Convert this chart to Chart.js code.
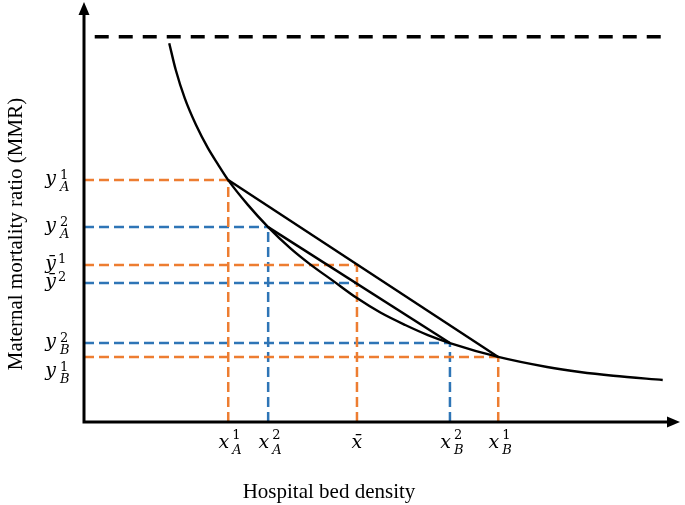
<!DOCTYPE html>
<html>
<head>
<meta charset="utf-8">
<script src="https://cdn.jsdelivr.net/npm/chart.js@4.4.1/dist/chart.umd.min.js"></script>
<style>
  html, body { margin: 0; padding: 0; background: #fff; }
</style>
</head>
<body>
<canvas id="chart" width="685" height="505"></canvas>
<script>
// Convex decreasing curve (MMR against bed density)
const curveX = [1.43, 1.54, 1.69, 1.88, 2.08, 2.25, 2.42, 2.75, 3.09, 3.46, 3.79, 4.18, 4.58, 4.98, 5.39, 5.77, 6.14, 6.95, 7.77, 8.32, 8.88, 9.71];
const curveY = [9.02, 8.38, 7.71, 7.07, 6.52, 6.13, 5.76, 5.17, 4.64, 4.14, 3.76, 3.36, 2.95, 2.60, 2.31, 2.07, 1.88, 1.55, 1.31, 1.19, 1.10, 1.00];

// Upper bound (dashed line)
const ceilingX = [0.18, 9.75];
const ceilingY = 9.17;

// Points where the chords meet the curve: A1, A2, B2, B1
const pointX = [2.42, 3.09, 6.14, 6.95];
const pointY = [5.76, 4.64, 1.88, 1.55];

// Mean bed density and the two mean MMR values on the chords
const meanX = 4.58;
const meanY = [3.74, 3.31];

// Tick labels (base letter, superscript, subscript)
const yTickBase = ['y', 'y', '\u0233', '\u0233', 'y', 'y'];
const yTickSup = ['1', '2', '1', '2', '2', '1'];
const yTickSub = ['A', 'A', '', '', 'B', 'B'];
const yTickValues = [pointY[0], pointY[1], meanY[0], meanY[1], pointY[2], pointY[3]];

const xTickBase = ['x', 'x', 'x\u0304', 'x', 'x'];
const xTickSup = ['1', '2', '', '2', '1'];
const xTickSub = ['A', 'A', '', 'B', 'B'];
const xTickValues = [pointX[0], pointX[1], meanX, pointX[2], pointX[3]];

const ORANGE = '#ED7D31';
const BLUE = '#2E75B6';

function seg(x1, y1, x2, y2) {
    return [{ x: x1, y: y1 }, { x: x2, y: y2 }];
}

const datasets = [];

// Curve
datasets.push({
    data: curveX.map((x, i) => ({ x: x, y: curveY[i] })),
    borderColor: '#000', borderWidth: 2.4,
    cubicInterpolationMode: 'monotone', order: 0
});
// Ceiling
datasets.push({
    data: ceilingX.map(x => ({ x: x, y: ceilingY })),
    borderColor: '#000', borderWidth: 3.5, borderDash: [14, 10], order: 0
});
// Chords A1-B1 and A2-B2
datasets.push({ data: seg(pointX[0], pointY[0], pointX[3], pointY[3]), borderColor: '#000', borderWidth: 2.4, order: 0 });
datasets.push({ data: seg(pointX[1], pointY[1], pointX[2], pointY[2]), borderColor: '#000', borderWidth: 2.4, order: 0 });

// Dashed guide lines down to the axes
const guideSets = [
    { color: ORANGE, order: 1, xs: [pointX[0], meanX, pointX[3]], ys: [pointY[0], meanY[0], pointY[3]], vert: [true, true, true] },
    { color: BLUE, order: 2, xs: [pointX[1], meanX, pointX[2]], ys: [pointY[1], meanY[1], pointY[2]], vert: [true, false, true] }
];
guideSets.forEach(g => {
    g.xs.forEach((gx, i) => {
        const gy = g.ys[i];
        datasets.push({ data: seg(0, gy, gx, gy), borderColor: g.color, borderWidth: 2.5, borderDash: [10, 5], order: g.order });
        if (g.vert[i]) {
            datasets.push({ data: seg(gx, 0, gx, gy), borderColor: g.color, borderWidth: 2.5, borderDash: [10, 5], order: g.order });
        }
    });
});

// Axes with arrows, tick labels and titles
const overlay = {
    id: 'overlay',
    afterDatasetsDraw(chart) {
        const { ctx, chartArea: a, scales } = chart;
        const sx = scales.x, sy = scales.y;
        const ox = sx.getPixelForValue(0), oy = sy.getPixelForValue(0);
        ctx.save();
        ctx.strokeStyle = '#000';
        ctx.fillStyle = '#000';
        ctx.lineWidth = 3;
        ctx.beginPath();
        ctx.moveTo(ox, oy + 1.5); ctx.lineTo(ox, a.top + 10);
        ctx.moveTo(ox - 1.5, oy); ctx.lineTo(a.right - 10, oy);
        ctx.stroke();
        ctx.beginPath();
        ctx.moveTo(ox, a.top); ctx.lineTo(ox - 5.5, a.top + 13); ctx.lineTo(ox + 5.5, a.top + 13);
        ctx.closePath(); ctx.fill();
        ctx.beginPath();
        ctx.moveTo(a.right, oy); ctx.lineTo(a.right - 13, oy - 5.5); ctx.lineTo(a.right - 13, oy + 5.5);
        ctx.closePath(); ctx.fill();

        // y tick labels
        yTickValues.forEach((v, i) => {
            let ty = sy.getPixelForValue(v);
            if (i === 5) ty += 15; // y_B^1 sits under its line
            ctx.font = 'italic 19px "DejaVu Serif"';
            ctx.textAlign = 'right';
            ctx.fillText(yTickBase[i], 56, ty + 4);
            ctx.textAlign = 'left';
            ctx.font = '13px "DejaVu Serif"';
            if (yTickSub[i]) {
                ctx.fillText(yTickSup[i], 60, ty - 1);
                ctx.font = 'italic 13px "DejaVu Serif"';
                ctx.fillText(yTickSub[i], 60, ty + 11);
            } else {
                ctx.fillText(yTickSup[i], 58, ty - 2);
            }
        });

        // x tick labels
        xTickValues.forEach((v, i) => {
            const tx = sx.getPixelForValue(v);
            ctx.font = 'italic 19px "DejaVu Serif"';
            if (xTickSub[i]) {
                ctx.textAlign = 'right';
                ctx.fillText(xTickBase[i], tx + 1, 448);
                ctx.textAlign = 'left';
                ctx.font = '13px "DejaVu Serif"';
                ctx.fillText(xTickSup[i], tx + 4, 439);
                ctx.font = 'italic 13px "DejaVu Serif"';
                ctx.fillText(xTickSub[i], tx + 4, 454);
            } else {
                ctx.textAlign = 'center';
                ctx.fillText(xTickBase[i], tx, 448);
            }
        });

        // Axis titles
        ctx.font = '21px "Liberation Serif"';
        ctx.textAlign = 'center';
        ctx.fillText('Hospital bed density', 329, 498);
        ctx.translate(22, 234);
        ctx.rotate(-Math.PI / 2);
        ctx.fillText('Maternal mortality ratio (MMR)', 0, 0);
        ctx.restore();
    }
};

new Chart(document.getElementById('chart').getContext('2d'), {
    type: 'scatter',
    data: { datasets: datasets },
    options: {
        responsive: false,
        animation: false,
        events: [],
        devicePixelRatio: 1,
        layout: { padding: { left: 84, right: 5, top: 2, bottom: 83 } },
        datasets: {
            scatter: { showLine: true, pointRadius: 0, fill: false, tension: 0 }
        },
        scales: {
            x: { type: 'linear', min: 0, max: 10, display: false },
            y: { type: 'linear', min: 0, max: 10, display: false }
        },
        plugins: {
            legend: { display: false },
            tooltip: { enabled: false }
        }
    },
    plugins: [overlay]
});
</script>
</body>
</html>
